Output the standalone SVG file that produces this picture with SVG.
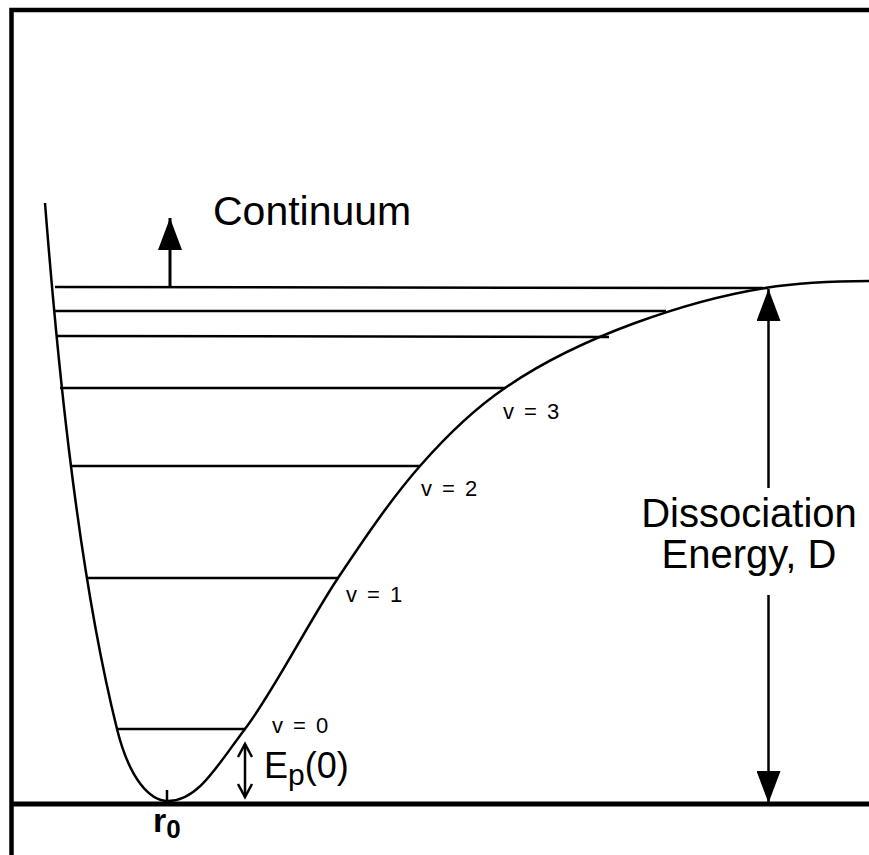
<svg xmlns="http://www.w3.org/2000/svg" width="869" height="855" viewBox="0 0 869 855">
<style>
.ln{stroke:#000;fill:none;stroke-width:2.5}
.t{font-family:"Liberation Sans",Arial,sans-serif;fill:#000}
</style>
<defs>
<marker id="solid" viewBox="0 0 32 24" refX="32" refY="12" markerWidth="32" markerHeight="24" markerUnits="userSpaceOnUse" orient="auto-start-reverse">
<path d="M32,12 L0,0 L0,24 Z" fill="#000"/>
</marker>
</defs>
<rect x="0" y="0" width="869" height="855" fill="#fff"/>
<g id="frame">
<path d="M11.5,855 V10 H869" fill="none" stroke="#000" stroke-width="4.5"/>
</g>
<g id="baseline">
<line x1="12" y1="804" x2="869" y2="804" stroke="#000" stroke-width="5"/>
<line x1="167" y1="790" x2="167" y2="804" stroke="#000" stroke-width="2.5"/>
</g>
<g id="potential-curve">
<path class="ln" d="M45,203 C55,330 75,560 117,729 C129.6,779.7 150,801 168,801 C198,801 216.7,766.2 245,729 C273.3,691.8 308.8,621.8 338,578 C367.2,534.2 392.2,497.7 420,466 C447.8,434.3 477,407 505,388 C580,336 690,300 765,288 C800,282.4 840,281 869,281"/>
</g>
<g id="levels" class="ln">
<line x1="55" y1="287" x2="768" y2="288"/>
<line x1="55" y1="311" x2="666" y2="311"/>
<line x1="57" y1="336" x2="609" y2="337"/>
<line x1="60" y1="388" x2="505" y2="388"/>
<line x1="70" y1="466" x2="420" y2="466"/>
<line x1="88" y1="578" x2="338" y2="578"/>
<line x1="117" y1="729" x2="245" y2="729"/>
</g>
<g id="connectors">
<line x1="170" y1="287" x2="170" y2="218" stroke="#000" stroke-width="3" marker-end="url(#solid)"/>
<line x1="768.5" y1="488" x2="768.5" y2="289" stroke="#000" stroke-width="2.5" marker-end="url(#solid)"/>
<line x1="768.5" y1="595" x2="768.5" y2="803" stroke="#000" stroke-width="2.5" marker-end="url(#solid)"/>
<g stroke="#000" stroke-width="2.5" fill="none">
<line x1="245" y1="744" x2="245" y2="797"/>
<polyline points="238,757 245,744 252,757"/>
<polyline points="238,784 245,797 252,784"/>
</g>
</g>
<g id="labels">
<text class="t" x="213" y="225" font-size="41">Continuum</text>
<text class="t" x="749" y="527" font-size="40" text-anchor="middle">Dissociation</text>
<text class="t" x="749" y="568" font-size="40" text-anchor="middle">Energy, D</text>
<text class="t" x="503" y="419" font-size="22" letter-spacing="2">v = 3</text>
<text class="t" x="421" y="496" font-size="22" letter-spacing="2">v = 2</text>
<text class="t" x="346" y="602" font-size="22" letter-spacing="2">v = 1</text>
<text class="t" x="272" y="733" font-size="22" letter-spacing="2">v = 0</text>
<text class="t" x="264" y="778" font-size="36">E<tspan font-size="30" dy="7">p</tspan><tspan dy="-7">(0)</tspan></text>
<text class="t" x="153" y="832" font-size="34" font-weight="bold">r<tspan font-size="26" dy="6">0</tspan></text>
</g>
</svg>
